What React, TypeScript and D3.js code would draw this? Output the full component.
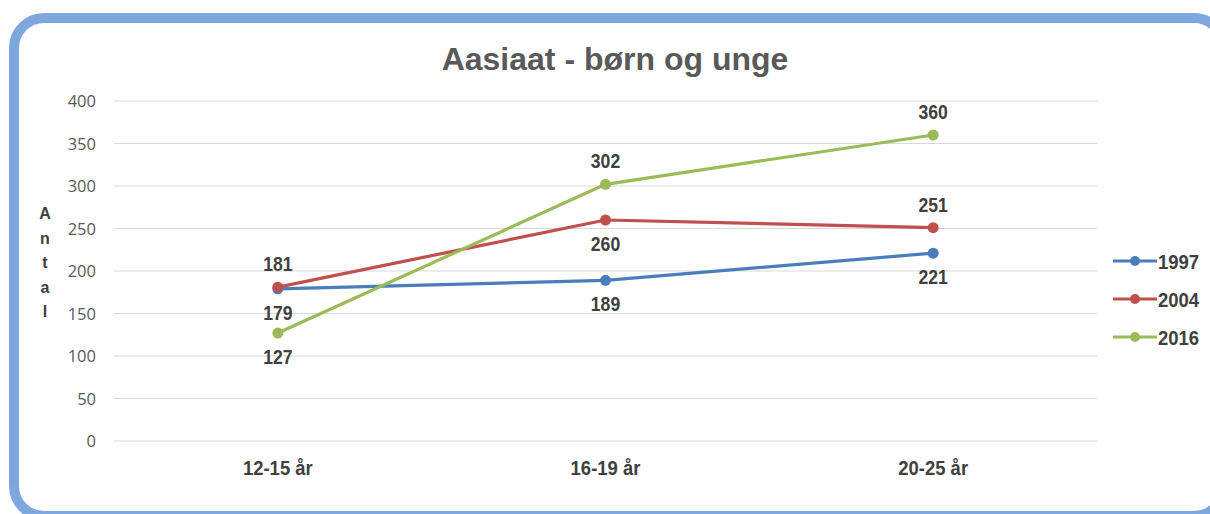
import React from "react";
import * as d3 from "d3";

const categories = ["12-15 år", "16-19 år", "20-25 år"];
const seriesNames = ["1997", "2004", "2016"];
const values1997 = [179, 189, 221];
const values2004 = [181, 260, 251];
const values2016 = [127, 302, 360];
const yTicks = [0, 50, 100, 150, 200, 250, 300, 350, 400];
const labelPos1997 = ["below", "below", "below"];
const labelPos2004 = ["above", "below", "above"];
const labelPos2016 = ["below", "above", "above"];

const colors = ["#4a7ebb", "#c0504d", "#9bbb59"];

export default function App() {
  const W = 1210, H = 514;
  const left = 114, right = 1097, top = 101, bottom = 441;
  const x = d3.scaleBand<string>().domain(categories).range([left, right]);
  const y = d3.scaleLinear().domain([0, 400]).range([bottom, top]);
  const line = d3.line<number>().x((_, i) => x(categories[i])! + x.bandwidth() / 2).y((d) => y(d));
  const series = [
    { name: seriesNames[0], values: values1997, pos: labelPos1997, color: colors[0] },
    { name: seriesNames[1], values: values2004, pos: labelPos2004, color: colors[1] },
    { name: seriesNames[2], values: values2016, pos: labelPos2016, color: colors[2] },
  ];
  const font = "'Liberation Sans', Arial, sans-serif";
  const sx = 0.88;
  const axisTitle = "Antal".split("");
  return (
    <svg width={W} height={H} style={{ position: "absolute", left: 0, top: 0, background: "#fff" }} fontFamily={font}>
      <rect x={14} y={18} width={1210} height={498} rx={30} ry={30} fill="#fff" stroke="#7ea7dd" strokeWidth={10} />
      <text x={615} y={70} textAnchor="middle" fontSize={32} fontWeight="bold" fill="#595959">
        Aasiaat - børn og unge
      </text>
      {yTicks.map((t) => (
        <g key={t}>
          <line x1={left} x2={right} y1={y(t)} y2={y(t)} stroke="#d9d9d9" strokeWidth={1} />
          <text x={96} y={y(t) + 6} textAnchor="end" fontSize={16.5} fill="#595959" fontFamily="'Open Sans', sans-serif">
            {t}
          </text>
        </g>
      ))}
      {categories.map((c) => (
        <text
          key={c}
          transform={`translate(${x(c)! + x.bandwidth() / 2},475) scale(${sx},1)`}
          textAnchor="middle"
          fontSize={21}
          fontWeight="bold"
          fill="#404040"
        >
          {c}
        </text>
      ))}
      {axisTitle.map((ch, i) => (
        <text key={i} x={45} y={219 + i * 24.5} textAnchor="middle" fontSize={16} fontWeight="bold" fill="#404040">
          {ch}
        </text>
      ))}
      {series.map((s) => (
        <g key={s.name}>
          <path d={line(s.values) || ""} fill="none" stroke={s.color} strokeWidth={3.2} strokeLinejoin="round" />
          {s.values.map((v, i) => (
            <circle key={i} cx={x(categories[i])! + x.bandwidth() / 2} cy={y(v)} r={5.5} fill={s.color} />
          ))}
          {s.values.map((v, i) => (
            <text
              key={"l" + i}
              transform={`translate(${x(categories[i])! + x.bandwidth() / 2},${y(v) + (s.pos[i] === "above" ? -16 : 31)}) scale(${sx},1)`}
              textAnchor="middle"
              fontSize={20}
              fontWeight="bold"
              fill="#404040"
            >
              {v}
            </text>
          ))}
        </g>
      ))}
      {series.map((s, i) => (
        <g key={"lg" + s.name} transform={`translate(0, ${261 + i * 38})`}>
          <line x1={1113} x2={1157} y1={0} y2={0} stroke={s.color} strokeWidth={3.2} />
          <circle cx={1135} cy={0} r={5} fill={s.color} />
          <text transform={`translate(1158,8) scale(${sx},1)`} fontSize={21} fontWeight="bold" fill="#404040">
            {s.name}
          </text>
        </g>
      ))}
    </svg>
  );
}
